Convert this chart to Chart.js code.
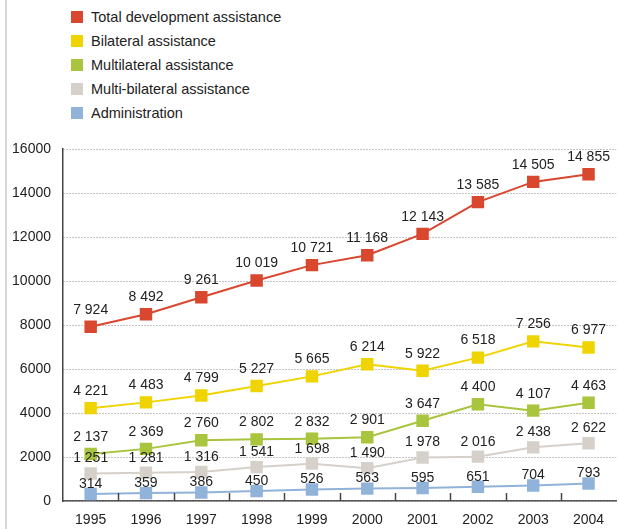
<!DOCTYPE html>
<html>
<head>
<meta charset="utf-8">
<script src="https://cdn.jsdelivr.net/npm/chart.js@4"></script>
<style>
  html, body { margin: 0; padding: 0; background: #fff; overflow: hidden; }
  body { width: 619px; height: 529px; position: relative; font-family: "Liberation Sans", Arial, sans-serif; }
  #edge { position: absolute; left: 5px; top: 0; width: 2px; height: 529px; background: #dad6d2; }
  #legend { position: absolute; left: 71px; top: 5px; margin: 0; padding: 0; list-style: none; }
  #legend li { height: 24px; display: flex; align-items: center; font-size: 14.5px; color: #222; }
  #legend .sw { width: 12px; height: 12px; margin-right: 8px; flex: none; }
  #wrap { position: absolute; left: 0; top: 0; width: 625px; height: 529px; }
</style>
</head>
<body>
<div id="edge"></div>
<ul id="legend"></ul>
<div id="wrap"><canvas id="chart" width="625" height="529"></canvas></div>
<script>
// Development assistance by year (NOK million)
const years = ['1995', '1996', '1997', '1998', '1999', '2000', '2001', '2002', '2003', '2004'];
const totalAssistance = [7924, 8492, 9261, 10019, 10721, 11168, 12143, 13585, 14505, 14855];
const bilateralAssistance = [4221, 4483, 4799, 5227, 5665, 6214, 5922, 6518, 7256, 6977];
const multilateralAssistance = [2137, 2369, 2760, 2802, 2832, 2901, 3647, 4400, 4107, 4463];
const multiBilateralAssistance = [1251, 1281, 1316, 1541, 1698, 1490, 1978, 2016, 2438, 2622];
const administration = [314, 359, 386, 450, 526, 563, 595, 651, 704, 793];
const yTickValues = [0, 2000, 4000, 6000, 8000, 10000, 12000, 14000, 16000];

const FONT = '"Liberation Sans", Arial, sans-serif';

function spaced(v) {
  return String(v).replace(/\B(?=(\d{3})+(?!\d))/g, ' ');
}

function series(label, data, color, labelOffset) {
  return {
    label, data,
    borderColor: color,
    backgroundColor: color,
    pointBackgroundColor: color,
    pointBorderWidth: 0,
    pointStyle: 'rect',
    pointRadius: 8.8,
    pointHoverRadius: 8.8,
    borderWidth: 2,
    tension: 0,
    labelOffset
  };
}

const datasets = [
  series('Total development assistance', totalAssistance, '#d9472f', 17),
  series('Bilateral assistance', bilateralAssistance, '#f0d400', 17),
  series('Multilateral assistance', multilateralAssistance, '#a9c43d', 17),
  series('Multi-bilateral assistance', multiBilateralAssistance, '#d6d0ca', 15),
  series('Administration', administration, '#91b3da', 10)
];

// Legend list
const legend = document.getElementById('legend');
datasets.forEach(ds => {
  const li = document.createElement('li');
  const sw = document.createElement('span');
  sw.className = 'sw';
  sw.style.background = ds.borderColor;
  li.appendChild(sw);
  li.appendChild(document.createTextNode(ds.label));
  legend.appendChild(li);
});

// Value labels above every point
const valueLabels = {
  id: 'valueLabels',
  afterDatasetsDraw(chart) {
    const ctx = chart.ctx;
    ctx.save();
    ctx.font = '14px ' + FONT;
    ctx.fillStyle = '#222';
    ctx.textAlign = 'center';
    ctx.textBaseline = 'middle';
    chart.data.datasets.forEach((ds, i) => {
      const meta = chart.getDatasetMeta(i);
      meta.data.forEach((pt, j) => {
        ctx.fillText(spaced(ds.data[j]), pt.x, pt.y - ds.labelOffset);
      });
    });
    ctx.restore();
  }
};

// Short tick marks between categories, standing up from the x axis
const innerTicks = {
  id: 'innerTicks',
  afterDraw(chart) {
    const x = chart.scales.x;
    const bottom = chart.chartArea.bottom;
    const ctx = chart.ctx;
    ctx.save();
    ctx.strokeStyle = '#444';
    ctx.lineWidth = 1.5;
    for (let i = 0; i < years.length - 1; i++) {
      const px = Math.round((x.getPixelForValue(i) + x.getPixelForValue(i + 1)) / 2) + 0.5;
      ctx.beginPath();
      ctx.moveTo(px, bottom - 8);
      ctx.lineTo(px, bottom);
      ctx.stroke();
    }
    ctx.restore();
  }
};

new Chart(document.getElementById('chart'), {
  type: 'line',
  data: { labels: years, datasets },
  options: {
    responsive: false,
    devicePixelRatio: 1,
    animation: false,
    layout: { padding: { top: 149, left: 0, right: 0, bottom: 0 } },
    plugins: { legend: { display: false }, tooltip: { enabled: false } },
    scales: {
      x: {
        offset: true,
        grid: { display: false, drawTicks: false },
        border: { display: true, color: '#555', width: 1.5 },
        ticks: { color: '#222', font: { family: FONT, size: 14 }, padding: 11, maxRotation: 0 },
        afterFit(scale) { scale.height = 28; }
      },
      y: {
        min: 0,
        max: 16000,
        afterBuildTicks(scale) { scale.ticks = yTickValues.map(v => ({ value: v })); },
        grid: { color: '#8a8a8a', lineWidth: 1, drawTicks: false },
        border: { display: true, color: '#444', width: 1.5, dash: [1, 2] },
        ticks: {
          color: '#222',
          font: { family: FONT, size: 14 },
          padding: 12,
          callback: v => String(v)
        },
        afterFit(scale) { scale.width = 63; }
      }
    }
  },
  plugins: [valueLabels, innerTicks]
});
</script>
</body>
</html>
